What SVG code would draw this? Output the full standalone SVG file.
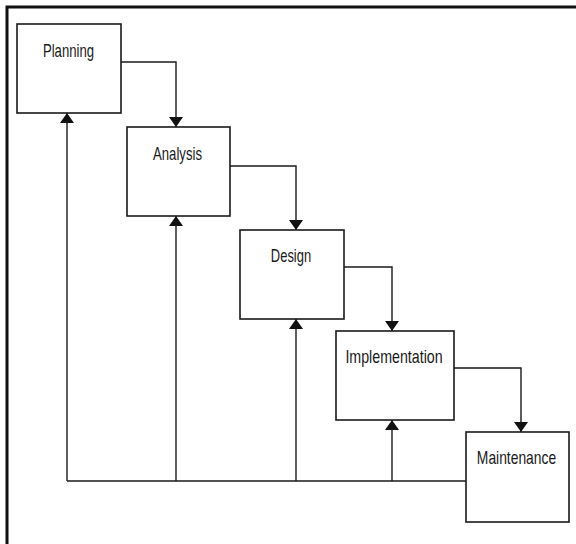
<svg xmlns="http://www.w3.org/2000/svg" width="576" height="544" viewBox="0 0 576 544">
<style>
.box{fill:#fff;stroke:#1a1a1a;stroke-width:1.6}
.lbl{font-family:"Liberation Sans",Arial,sans-serif;font-size:18px;fill:#1a1a1a;text-anchor:middle}
.c{fill:none;stroke:#1a1a1a;stroke-width:1.4}
</style>
<defs>
<marker id="ah" viewBox="0 0 10 14" refX="10" refY="7" markerWidth="10" markerHeight="14" markerUnits="userSpaceOnUse" orient="auto">
<path d="M0,0 L10,7 L0,14 Z" fill="#111"/>
</marker>
</defs>
<rect width="576" height="544" fill="#fff"/>
<path d="M7,544 V7 H576" fill="none" stroke="#111" stroke-width="3"/>
<g id="connectors">
<path class="c" d="M121,62 H176 V127" marker-end="url(#ah)"/>
<path class="c" d="M230,166 H296 V230" marker-end="url(#ah)"/>
<path class="c" d="M344,267 H392 V331" marker-end="url(#ah)"/>
<path class="c" d="M454,368 H521 V432" marker-end="url(#ah)"/>
<path class="c" d="M466,481 H67"/>
<path class="c" d="M67,481 V113" marker-end="url(#ah)"/>
<path class="c" d="M176,481 V216" marker-end="url(#ah)"/>
<path class="c" d="M296,481 V319" marker-end="url(#ah)"/>
<path class="c" d="M392,481 V420" marker-end="url(#ah)"/>
</g>
<g id="planning"><rect class="box" x="17" y="24" width="104" height="89"/><text class="lbl" transform="translate(68.5,57) scale(0.73,1)">Planning</text></g>
<g id="analysis"><rect class="box" x="127" y="127" width="103" height="89"/><text class="lbl" transform="translate(177.5,160) scale(0.73,1)">Analysis</text></g>
<g id="design"><rect class="box" x="240" y="230" width="104" height="89"/><text class="lbl" transform="translate(291,262) scale(0.72,1)">Design</text></g>
<g id="implementation"><rect class="box" x="336" y="331" width="118" height="89"/><text class="lbl" transform="translate(394,363) scale(0.79,1)">Implementation</text></g>
<g id="maintenance"><rect class="box" x="466" y="432" width="103" height="90"/><text class="lbl" transform="translate(516.5,464) scale(0.77,1)">Maintenance</text></g>
</svg>
